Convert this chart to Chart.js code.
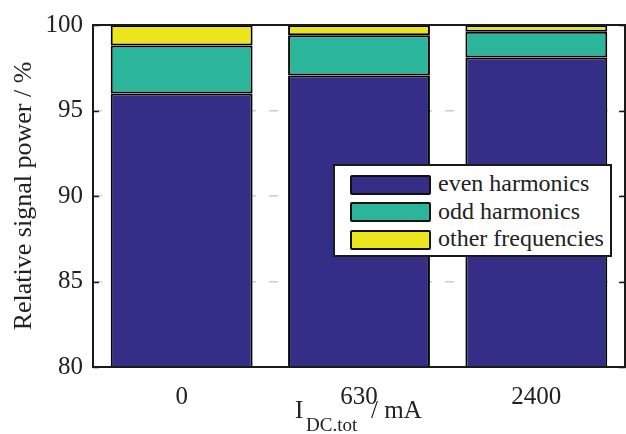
<!DOCTYPE html>
<html>
<head>
<meta charset="utf-8">
<script src="https://cdn.jsdelivr.net/npm/chart.js@4.4.1/dist/chart.umd.min.js"></script>
<style>
  html, body { margin: 0; padding: 0; background: #fff; overflow: hidden; }
  #wrap { position: relative; width: 626px; height: 434px; }
  #legend {
    position: absolute; left: 333px; top: 164px; width: 279px; height: 93px;
    background: #fff; border: 2px solid #1a1a1a; box-sizing: border-box;
    font-family: 'Liberation Serif', 'Times New Roman', serif; font-size: 24px; color: #222;
    padding-top: 5px;
  }
  .row { display: flex; align-items: center; height: 27.5px; padding-left: 15px; }
  .row span { position: relative; top: -1px; }
  .sw { width: 81px; height: 20px; border: 2px solid #111; box-sizing: border-box; border-radius: 2px; margin-right: 7px; }
</style>
</head>
<body>
<div id="wrap">
  <canvas id="chart"></canvas>
  <div id="legend"></div>
</div>
<script>
// data
const categories = ['0', '630', '2400'];
const seriesNames = ['even harmonics', 'odd harmonics', 'other frequencies'];
const evenHarmonics = [96.0, 97.05, 98.1];
const oddHarmonics = [2.8, 2.35, 1.5];
const otherFrequencies = [1.2, 0.6, 0.4];
const yTicks = [80, 85, 90, 95, 100];

const colors = ['#342e86', '#2bb59b', '#ece51d'];
const SERIF = "'Liberation Serif', 'Times New Roman', serif";

// frame, inward ticks and axis titles (the x title has a subscript)
const decor = {
  id: 'decor',
  afterDatasetsDraw(chart) {
    const { ctx, chartArea: a, scales: { y } } = chart;
    ctx.save();
    ctx.strokeStyle = '#1a1a1a';
    ctx.lineWidth = 2;
    ctx.strokeRect(a.left, a.top, a.right - a.left, a.bottom - a.top);
    ctx.lineWidth = 1.5;
    yTicks.forEach(v => {
      const py = Math.round(y.getPixelForValue(v)) + 0.5;
      ctx.beginPath();
      ctx.moveTo(a.left, py); ctx.lineTo(a.left + 6, py);
      ctx.moveTo(a.right - 6, py); ctx.lineTo(a.right, py);
      ctx.stroke();
    });

    ctx.fillStyle = '#222';
    ctx.textBaseline = 'alphabetic';
    ctx.textAlign = 'left';
    ctx.font = '25px ' + SERIF;
    ctx.fillText('I', 295, 418);
    ctx.font = '19px ' + SERIF;
    ctx.fillText('DC.tot', 306, 431);
    ctx.font = '25px ' + SERIF;
    ctx.fillText('/ mA', 371, 418);

    ctx.translate(31, 196);
    ctx.rotate(-Math.PI / 2);
    ctx.textAlign = 'center';
    ctx.font = '26px ' + SERIF;
    ctx.fillText('Relative signal power / %', 0, 0);
    ctx.restore();
  }
};

const datasets = [evenHarmonics, oddHarmonics, otherFrequencies].map((d, i) => ({
  label: seriesNames[i],
  data: d,
  backgroundColor: colors[i],
  borderColor: '#000',
  borderWidth: 2,
  borderSkipped: false,
  inflateAmount: 0,
  categoryPercentage: 1.0,
  barPercentage: 0.8
}));

new Chart(document.getElementById('chart'), {
  type: 'bar',
  data: { labels: categories, datasets },
  options: {
    responsive: true,
    maintainAspectRatio: false,
    animation: false,
    layout: { padding: { top: 20, right: 1, left: 0, bottom: 0 } },
    plugins: { legend: { display: false }, tooltip: { enabled: false } },
    scales: {
      x: {
        stacked: true,
        grid: { display: false, drawTicks: false },
        border: { display: false },
        ticks: { color: '#222', padding: 15, font: { family: SERIF, size: 25 } },
        afterFit: s => { s.height = 67; }
      },
      y: {
        stacked: true,
        min: 80, max: 100,
        afterBuildTicks: s => { s.ticks = yTicks.map(v => ({ value: v })); },
        grid: { color: 'rgba(150,160,185,0.55)', drawTicks: false, lineWidth: 1.5 },
        border: { display: false, dash: [9, 13] },
        ticks: { color: '#222', padding: 10, font: { family: SERIF, size: 25 } },
        afterFit: s => { s.width = 93; }
      }
    }
  },
  plugins: [decor]
});

document.getElementById('legend').innerHTML = seriesNames.map((n, i) =>
  `<div class="row"><div class="sw" style="background:${colors[i]}"></div><span>${n}</span></div>`
).join('');
</script>
</body>
</html>
